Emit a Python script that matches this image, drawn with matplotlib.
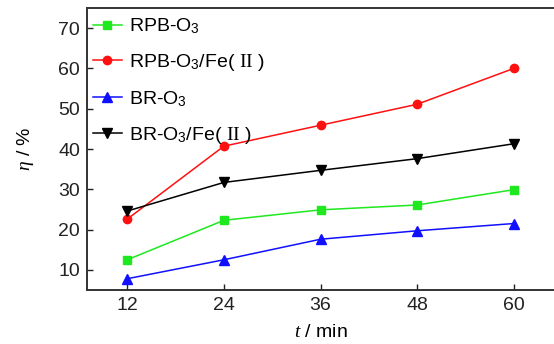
import matplotlib
matplotlib.use("Agg")
import matplotlib.pyplot as plt
from matplotlib import font_manager

names = {f.name for f in font_manager.fontManager.ttflist}
sans = 'Liberation Sans Narrow' if 'Liberation Sans Narrow' in names else 'Liberation Sans'

plt.rcParams['font.family'] = [sans, 'DejaVu Sans']
plt.rcParams['mathtext.fontset'] = 'custom'
plt.rcParams['mathtext.rm'] = sans
plt.rcParams['mathtext.it'] = 'Liberation Serif:italic'
plt.rcParams['mathtext.tt'] = 'Liberation Serif'

t = [12, 24, 36, 48, 60]
rpb_o3 = [12.5, 22.3, 24.9, 26.1, 29.9]
rpb_o3_fe = [22.6, 40.7, 45.9, 51.1, 60.0]
br_o3 = [7.8, 12.5, 17.6, 19.7, 21.5]
br_o3_fe = [24.6, 31.7, 34.7, 37.6, 41.3]

labels = [r'RPB-O$_3$', r'RPB-O$_3$/Fe( $\mathtt{II}$ )',
          r'BR-O$_3$', r'BR-O$_3$/Fe( $\mathtt{II}$ )']

fig = plt.figure(figsize=(5.54, 3.44), dpi=100)
ax = fig.add_axes([87/554, 1-290/344, 1-87/554, (290-8)/344])

ax.plot(t, rpb_o3, color='#1ee81e', marker='s', ms=6, lw=1.1, label=labels[0])
ax.plot(t, rpb_o3_fe, color='#ff1010', marker='o', ms=6, lw=1.1, label=labels[1])
ax.plot(t, br_o3, color='#1010ff', marker='^', ms=7, lw=1.1, label=labels[2])
ax.plot(t, br_o3_fe, color='black', marker='v', ms=7, lw=1.1, label=labels[3])

ax.set_xlim(7, 65)
ax.set_ylim(5, 75)
ax.set_xticks(t)
ax.set_yticks([10, 20, 30, 40, 50, 60, 70])
ax.tick_params(direction='in', length=4, width=1, labelsize=14, colors='#222222', pad=5)
for s in ['left', 'bottom', 'top']:
    ax.spines[s].set_linewidth(1.4)
    ax.spines[s].set_color('#333333')
ax.spines['right'].set_visible(False)

ax.set_xlabel(r'$\it{t}$ / min', fontsize=14, labelpad=7)
ax.set_ylabel(r'$\eta$ / %', fontsize=14, labelpad=16)

ax.legend(loc='upper left', frameon=False, fontsize=14, handlelength=1.5,
          handletextpad=0.35, labelspacing=0.82, borderaxespad=0.0, borderpad=0.3,
          bbox_to_anchor=(0.0, 0.99))

fig.savefig('out.png', dpi=100)
